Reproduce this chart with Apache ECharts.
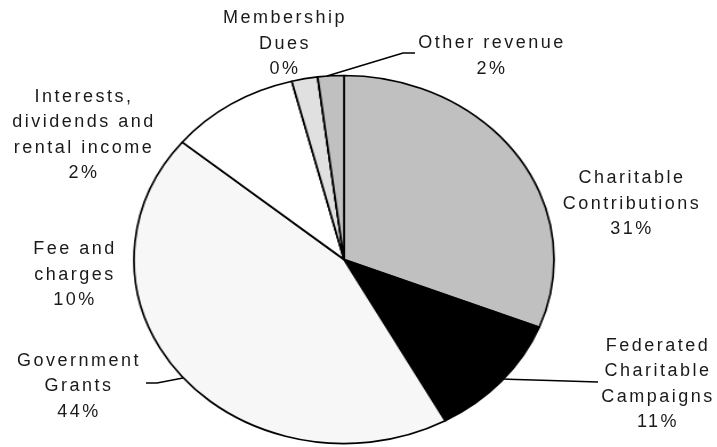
<!DOCTYPE html>
<html>
<head>
<meta charset="utf-8">
<script src="https://cdn.jsdelivr.net/npm/echarts@6/dist/echarts.min.js"></script>
<style>
  html, body { margin: 0; padding: 0; background: #ffffff; }
  #wrap { position: relative; width: 717px; height: 447px; overflow: hidden; }
  #pie, #labels { position: absolute; left: 0; top: 0; width: 717px; height: 447px; }
  #pie { transform: scaleX(1.1413); transform-origin: 344px 259.5px; }
  #labels text { letter-spacing: 2.5px; }
</style>
</head>
<body>
<div id="wrap">
  <div id="pie"></div>
  <div id="labels"></div>
</div>
<script>
// ---- data ----
const categories = [
  'Charitable\nContributions',
  'Federated\nCharitable\nCampaigns',
  'Government\nGrants',
  'Fee and\ncharges',
  'Interests,\ndividends and\nrental income',
  'Membership\nDues',
  'Other revenue'
];
const values = [31, 11, 44, 10, 2, 0, 2];

// ---- styles / layout ----
const colors = ['#c0c0c0', '#000000', '#f7f7f7', '#ffffff', '#e0e0e0', '#c0c0c0', '#c0c0c0'];
const labelPos = [
  [632, 202.5],
  [658, 383],
  [79, 385],
  [75, 273.5],
  [84, 134],
  [285, 42.5],
  [492, 55]
];
const labelLines = {
  1: [[503, 379], [550, 380.5], [598, 382]],
  2: [[183, 378], [157, 383], [146, 383]],
  6: [[327, 76], [403, 53], [415, 53]]
};
const center = [344, 259.5];
const radius = 184;

const pieData = categories.map((c, i) => ({
  name: c,
  value: values[i],
  itemStyle: { color: colors[i] }
}));

const pieChart = echarts.init(document.getElementById('pie'), null, { renderer: 'canvas' });
pieChart.setOption({
  animation: false,
  series: [{
    type: 'pie',
    center: center,
    radius: radius,
    startAngle: 90,
    clockwise: true,
    avoidLabelOverlap: false,
    label: { show: false },
    labelLine: { show: false },
    emphasis: { disabled: true },
    itemStyle: { borderColor: '#000000', borderWidth: 1.7 },
    data: pieData
  }]
});

const labelData = categories.map((c, i) => ({
  name: c,
  value: values[i],
  itemStyle: { color: 'rgba(0,0,0,0)', borderWidth: 0 },
  labelLine: { show: !!labelLines[i] }
}));

const labelChart = echarts.init(document.getElementById('labels'), null, { renderer: 'svg' });
labelChart.setOption({
  animation: false,
  series: [{
    type: 'pie',
    center: center,
    radius: radius,
    startAngle: 90,
    clockwise: true,
    percentPrecision: 0,
    avoidLabelOverlap: false,
    silent: true,
    emphasis: { disabled: true },
    label: {
      show: true,
      position: 'outside',
      formatter: '{b}\n{d}%',
      fontFamily: '"Liberation Sans", Arial, sans-serif',
      fontSize: 18,
      lineHeight: 25.5,
      color: '#1a1a1a',
      align: 'center'
    },
    labelLine: { show: true, lineStyle: { color: '#000000', width: 1.5 } },
    labelLayout: function (params) {
      const i = params.dataIndex;
      const p = labelPos[i];
      const r = { x: p[0], y: p[1], align: 'center', verticalAlign: 'middle', hideOverlap: false, moveOverlap: null };
      if (labelLines[i]) r.labelLinePoints = labelLines[i];
      return r;
    },
    data: labelData
  }]
});
</script>
</body>
</html>
